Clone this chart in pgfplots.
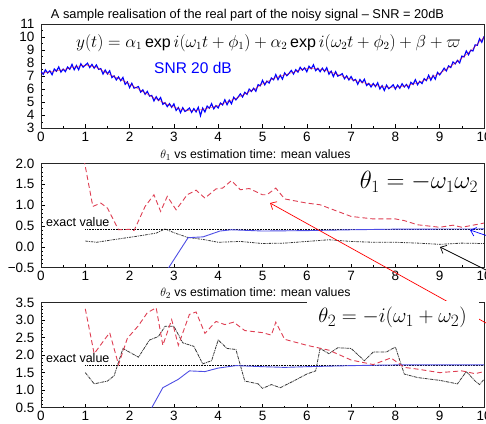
\documentclass[border=0pt]{standalone}
\usepackage{fontspec}
\setmainfont{Liberation Sans}
\usepackage{graphicx}
\usepackage{pgfplots}
\pgfplotsset{compat=1.18}
\usetikzlibrary{arrows.meta}
\definecolor{rdash}{RGB}{222,62,82}
\definecolor{bsol}{RGB}{78,78,228}
\definecolor{gdot}{RGB}{55,55,55}
\pgfplotsset{
 myax/.style={scale only axis, width=443pt, xmin=0, xmax=10, xtick={0,...,10}, minor x tick num=1,
  tick pos=left, tick align=inside, major tick length=4pt, minor tick length=2.2pt,
  every tick/.style={black, line width=0.5pt},
  axis line style={line width=0.7pt, black!85},
  tick label style={font=\fontsize{13.5}{13.5}\selectfont},
  yticklabel style={xshift=-3pt},
  /pgf/number format/assume math mode=true, clip=true},
}
\begin{document}
\begin{tikzpicture}
\useasboundingbox (0,0) rectangle (486pt,423pt);
\clip (0,0) rectangle (486pt,423pt);
% ---------------- top axis
\begin{axis}[myax, at={(41pt,294.7pt)}, anchor=south west, height=104.3pt,
  ymin=3, ymax=11, ytick={3,...,11}, minor y tick num=1]
\addplot[blue, line width=1.15pt] coordinates {
(0.00,7.36)(0.05,7.14)(0.10,7.48)(0.15,7.24)(0.20,7.41)(0.25,7.11)(0.30,7.55)(0.35,7.38)(0.40,7.71)(0.45,7.31)
(0.50,7.54)(0.55,7.35)(0.60,7.70)(0.65,7.53)(0.70,7.90)(0.75,7.49)(0.80,7.81)(0.85,7.49)(0.90,7.95)(0.95,7.69)
(1.00,7.84)(1.05,8.00)(1.10,7.66)(1.15,7.90)(1.20,7.61)(1.25,7.86)(1.30,7.52)(1.35,7.58)(1.40,7.16)(1.45,7.47)
(1.50,7.17)(1.55,7.41)(1.60,6.89)(1.65,7.02)(1.70,6.71)(1.75,6.94)(1.80,6.65)(1.85,6.90)(1.90,6.37)(1.95,6.56)
(2.00,6.12)(2.05,6.45)(2.10,6.08)(2.15,6.13)(2.20,6.20)(2.25,5.77)(2.30,5.95)(2.35,5.61)(2.40,5.83)(2.45,5.47)
(2.50,5.52)(2.55,5.10)(2.60,5.42)(2.65,5.14)(2.70,5.36)(2.75,4.84)(2.80,4.96)(2.85,4.66)(2.90,4.89)(2.95,4.61)
(3.00,4.87)(3.05,4.37)(3.10,4.59)(3.15,4.20)(3.20,4.58)(3.25,4.29)(3.30,4.40)(3.35,4.56)(3.40,4.22)(3.45,4.51)
(3.50,4.26)(3.55,4.61)(3.60,3.97)(3.65,4.55)(3.70,4.25)(3.75,4.70)(3.80,4.54)(3.85,4.89)(3.90,4.49)(3.95,4.74)
(4.00,4.56)(4.05,4.94)(4.10,4.79)(4.15,5.19)(4.20,4.81)(4.25,5.16)(4.30,4.88)(4.35,5.38)(4.40,5.18)(4.45,5.40)
(4.50,5.64)(4.55,5.40)(4.60,5.76)(4.65,5.60)(4.70,6.01)(4.75,5.83)(4.80,6.07)(4.85,5.84)(4.90,6.35)(4.95,6.26)
(5.00,6.68)(5.05,6.33)(5.10,6.62)(5.15,6.47)(5.20,6.86)(5.25,6.72)(5.30,7.12)(5.35,6.73)(5.40,7.07)(5.45,6.77)
(5.50,7.25)(5.55,7.03)(5.60,7.22)(5.65,7.44)(5.70,7.16)(5.75,7.50)(5.80,7.31)(5.85,7.68)(5.90,7.46)(5.95,7.64)
(6.00,7.34)(6.05,7.76)(6.10,7.57)(6.15,7.87)(6.20,7.42)(6.25,7.60)(6.30,7.34)(6.35,7.61)(6.40,7.36)(6.45,7.65)
(6.50,7.15)(6.55,7.38)(6.60,6.97)(6.65,7.34)(6.70,7.00)(6.75,7.08)(6.80,7.19)(6.85,6.80)(6.90,7.02)(6.95,6.71)
(7.00,6.97)(7.05,6.65)(7.10,6.75)(7.15,6.38)(7.20,6.74)(7.25,6.50)(7.30,6.76)(7.35,6.28)(7.40,6.44)(7.45,6.17)
(7.50,6.44)(7.55,6.20)(7.60,6.49)(7.65,6.02)(7.70,6.27)(7.75,5.90)(7.80,6.31)(7.85,6.04)(7.90,6.17)(7.95,6.34)
(8.00,6.01)(8.05,6.31)(8.10,6.07)(8.15,6.42)(8.20,6.17)(8.25,6.36)(8.30,6.07)(8.35,6.53)(8.40,6.37)(8.45,6.73)
(8.50,6.34)(8.55,6.60)(8.60,6.43)(8.65,6.81)(8.70,6.66)(8.75,7.07)(8.80,6.69)(8.85,7.05)(8.90,6.77)(8.95,7.29)
(9.00,7.10)(9.05,7.34)(9.10,7.61)(9.15,7.40)(9.20,7.79)(9.25,7.66)(9.30,8.09)(9.35,7.94)(9.40,8.21)(9.45,8.01)
(9.50,8.54)(9.55,8.48)(9.60,8.93)(9.65,8.64)(9.70,8.99)(9.75,8.93)(9.80,9.40)(9.85,9.37)(9.90,9.87)(9.95,9.60)
(10.00,10.05)};
\addplot[red, line width=0.35pt, opacity=0.7] coordinates {
(0.0,7.22)(0.1,7.27)(0.2,7.32)(0.3,7.38)(0.4,7.43)(0.5,7.50)(0.6,7.58)(0.7,7.66)(0.8,7.74)(0.9,7.80)
(1.0,7.82)(1.1,7.80)(1.2,7.72)(1.3,7.58)(1.4,7.40)(1.5,7.20)(1.6,7.05)(1.7,6.90)(1.8,6.74)(1.9,6.58)
(2.0,6.40)(2.1,6.20)(2.2,6.01)(2.3,5.81)(2.4,5.62)(2.5,5.43)(2.6,5.25)(2.7,5.08)(2.8,4.92)(2.9,4.77)
(3.0,4.63)(3.1,4.52)(3.2,4.43)(3.3,4.38)(3.4,4.36)(3.5,4.37)(3.6,4.42)(3.7,4.49)(3.8,4.57)(3.9,4.65)
(4.0,4.75)(4.1,4.88)(4.2,5.02)(4.3,5.16)(4.4,5.30)(4.5,5.45)(4.6,5.62)(4.7,5.80)(4.8,5.98)(4.9,6.18)
(5.0,6.40)(5.1,6.58)(5.2,6.74)(5.3,6.88)(5.4,7.00)(5.5,7.10)(5.6,7.20)(5.7,7.30)(5.8,7.42)(5.9,7.52)
(6.0,7.58)(6.1,7.60)(6.2,7.58)(6.3,7.53)(6.4,7.45)(6.5,7.36)(6.6,7.25)(6.7,7.12)(6.8,7.00)(6.9,6.88)
(7.0,6.76)(7.1,6.66)(7.2,6.57)(7.3,6.48)(7.4,6.40)(7.5,6.32)(7.6,6.25)(7.7,6.20)(7.8,6.16)(7.9,6.15)
(8.0,6.15)(8.1,6.18)(8.2,6.23)(8.3,6.31)(8.4,6.40)(8.5,6.50)(8.6,6.62)(8.7,6.75)(8.8,6.90)(8.9,7.05)
(9.0,7.22)(9.1,7.42)(9.2,7.65)(9.3,7.88)(9.4,8.12)(9.5,8.37)(9.6,8.65)(9.7,8.95)(9.8,9.28)(9.9,9.63)
(10.0,9.98)};
\end{axis}
% ---------------- middle axis
\begin{axis}[myax, at={(41pt,155.3pt)}, anchor=south west, height=104.2pt,
  ymin=-0.5, ymax=2, ytick={-0.5,0,0.5,1,1.5,2}, yticklabels={−0.5,0.0,0.5,1.0,1.5,2.0}, minor y tick num=4]
\addplot[black, densely dotted, line width=0.6pt] coordinates {(1,0.43)(10,0.43)};
\addplot[gdot, line width=0.8pt, dash pattern=on 2.5pt off 1pt on 1pt off 1pt] coordinates {
(1,0.14)(1.25,0.11)(1.75,0.19)(2.2,0.26)(2.6,0.33)(2.8,0.43)(3.0,0.34)(3.3,0.23)(3.7,0.17)(4,0.11)
(4.5,0.13)(5,0.08)(5.5,0.09)(6,0.13)(6.5,0.17)(7,0.13)(7.5,0.11)(8,0.11)(8.5,0.09)(9,0.06)(9.5,0.09)(10,0.08)};
\addplot[bsol, line width=0.9pt] coordinates {
(2.87,-0.52)(3.32,0.22)(3.66,0.24)(4.04,0.38)(4.3,0.41)(5,0.38)(6,0.39)(7,0.41)(8,0.425)(10,0.43)};
\addplot[rdash, line width=0.9pt, dash pattern=on 5pt off 3pt] coordinates {
(0.97,2.1)(1.17,0.97)(1.35,1.05)(1.5,0.93)(1.75,0.41)(2.0,0.42)(2.1,0.39)(2.35,0.97)(2.55,1.25)(2.7,0.85)
(2.85,1.21)(3.05,0.89)(3.3,1.25)(3.5,1.36)(3.7,1.17)(3.95,1.39)(4.1,1.41)(4.3,1.59)(4.5,1.37)(4.7,1.40)
(5.0,1.25)(5.1,1.25)(5.3,1.41)(5.5,1.15)(6.0,1.05)(6.3,1.01)(6.7,0.85)(7.0,0.73)(7.5,0.67)(8.0,0.67)
(8.2,0.63)(8.5,0.53)(9.0,0.47)(9.3,0.52)(9.5,0.47)(10,0.57)};
\end{axis}
% ---------------- bottom axis
\begin{axis}[myax, at={(41pt,15.3pt)}, anchor=south west, height=105.2pt,
  ymin=0.5, ymax=3.5, ytick={0.5,1,1.5,2,2.5,3,3.5}, yticklabels={0.5,1.0,1.5,2.0,2.5,3.0,3.5}, minor y tick num=4]
\addplot[black, densely dotted, line width=0.6pt] coordinates {(1,1.72)(10,1.72)};
\addplot[gdot, line width=0.8pt, dash pattern=on 3pt off 0.8pt on 0.8pt off 0.8pt] coordinates {
(1,1.50)(1.2,1.18)(1.5,1.26)(1.65,1.41)(1.85,2.19)(2.2,1.94)(2.45,2.43)(2.65,2.53)(2.8,2.82)(3.0,2.82)
(3.2,2.35)(3.45,2.25)(3.65,1.75)(3.85,1.84)(4.0,2.43)(4.2,2.19)(4.4,2.16)(4.6,1.26)(4.9,1.18)(5.0,1.05)
(5.2,1.16)(5.4,1.07)(5.7,1.26)(6.0,1.46)(6.2,1.55)(6.3,2.19)(6.5,2.04)(6.7,2.21)(7.0,2.19)(7.3,1.84)
(7.5,2.09)(7.8,2.09)(8.0,2.23)(8.2,1.46)(8.5,1.36)(9.0,1.28)(9.4,1.18)(9.6,1.53)(9.8,1.26)(9.9,1.16)(10,1.31)};
\addplot[bsol, line width=0.9pt] coordinates {
(2.5,0.5)(2.75,1.07)(3.1,1.31)(3.35,1.55)(3.7,1.53)(4.0,1.63)(4.4,1.70)(5,1.67)(5.5,1.65)(6,1.67)(7,1.70)(8,1.72)(10,1.72)};
\addplot[rdash, line width=0.9pt, dash pattern=on 5pt off 3pt] coordinates {
(1,3.32)(1.2,2.04)(1.55,2.64)(1.75,1.73)(1.95,2.48)(2.2,2.84)(2.4,3.21)(2.6,3.35)(2.75,2.28)(2.95,3.01)
(3.1,2.28)(3.35,3.16)(3.5,3.23)(3.7,2.62)(3.95,2.96)(4.15,2.87)(4.35,2.94)(4.6,2.70)(5.0,2.64)(5.2,2.57)
(5.3,2.94)(5.5,2.45)(6,2.28)(6.5,2.14)(7,1.86)(7.5,1.73)(7.9,1.92)(8.2,1.65)(8.5,1.60)(9,1.50)
(9.5,1.55)(9.8,1.47)(10,1.53)};
\end{axis}
% ---------------- texts
\node at (247.5pt,408pt) {\fontsize{12.8}{13}\selectfont A sample realisation of the real part of the noisy signal -- SNR = 20dB};
\node at (268.5pt,380pt) {\fontsize{16}{16}\selectfont $y(t)=\alpha_1\exp i(\omega_1t+\phi_1)+\alpha_2\exp i(\omega_2t+\phi_2)+\beta+\varpi$};
\node[text=blue] at (193pt,355pt) {\fontsize{15.5}{16}\selectfont SNR 20 dB};
\node at (255.5pt,268pt) {\fontsize{12.3}{12}\selectfont $\theta_1$ vs estimation time: mean values};
\node at (255.5pt,130pt) {\fontsize{12.3}{12}\selectfont $\theta_2$ vs estimation time: mean values};
\node[anchor=west, inner sep=0pt] at (46pt,201pt) {\fontsize{12.5}{13}\selectfont exact value};
\node[anchor=west, inner sep=0pt] at (46pt,65.3pt) {\fontsize{12.5}{13}\selectfont exact value};
\node at (419pt,241pt) {\fontsize{24}{24}\selectfont $\theta_1=-\omega_1\omega_2$};
% arrows
\draw[red, line width=0.7pt, -{Straight Barb[length=5pt,width=9pt]}] (540pt,70pt) -- (270pt,220pt);
\draw[blue, line width=0.7pt, -{Straight Barb[length=5pt,width=9pt]}] (520pt,176pt) -- (470pt,193pt);
\draw[black, line width=0.7pt, -{Straight Barb[length=5pt,width=9pt]}] (540pt,126pt) -- (440pt,176pt);
% theta2 label box
\fill[white] (307pt,85pt) rectangle (479pt,122pt);
\node at (392.5pt,106pt) {\fontsize{22.8}{23}\selectfont $\theta_2=-i(\omega_1+\omega_2)$};
\end{tikzpicture}
\end{document}
